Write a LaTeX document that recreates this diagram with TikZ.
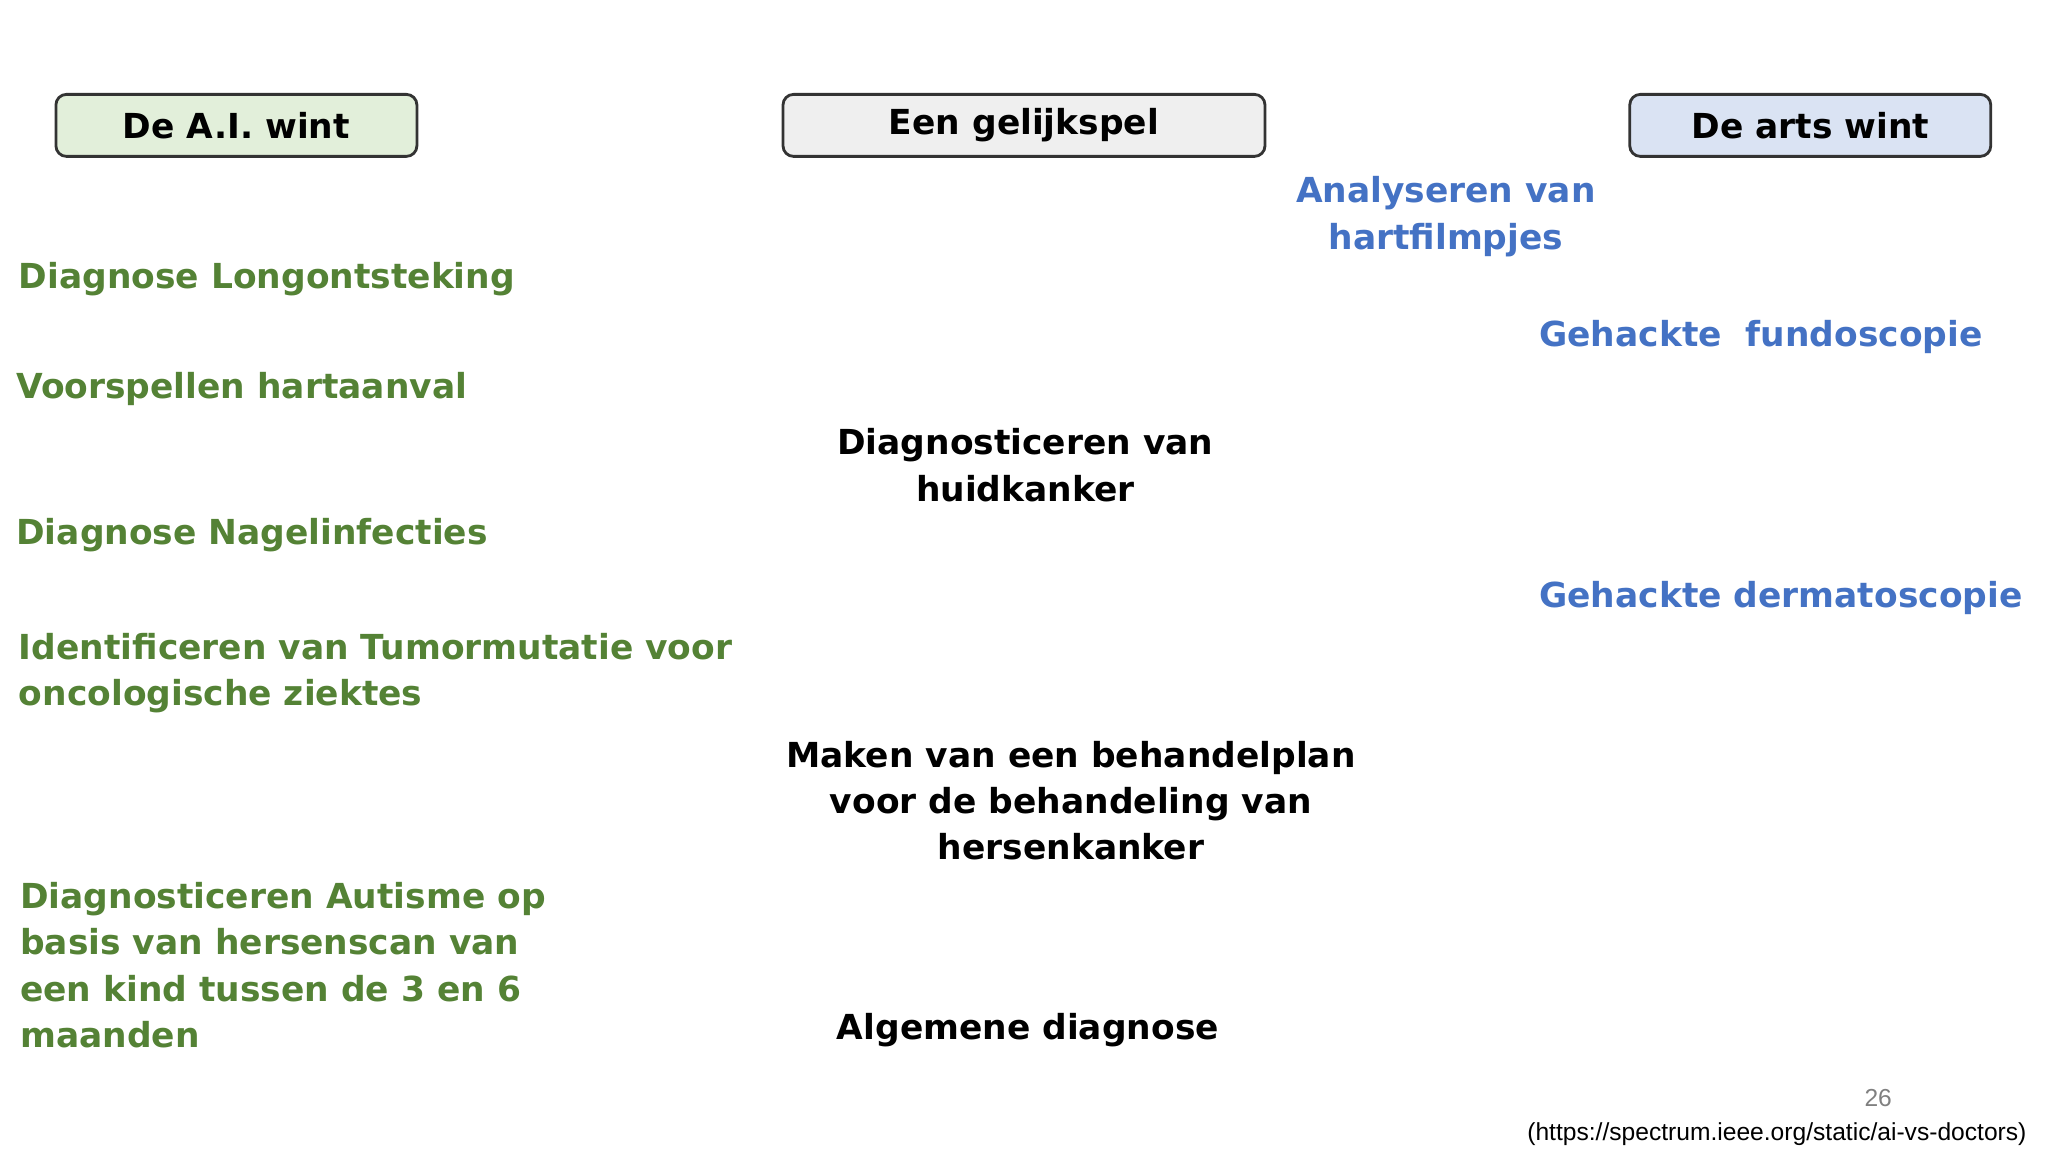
\documentclass[tikz,border=0pt]{standalone}
\usepackage{fontspec}
\setmainfont{DejaVu Sans}
\newfontfamily\srcfont{Liberation Sans}
\definecolor{gr}{HTML}{548235}
\definecolor{bl}{HTML}{4472C4}
\definecolor{gfill}{HTML}{E2EFDA}
\definecolor{bfill}{HTML}{DAE3F3}
\definecolor{hfill}{HTML}{EFEFEF}
\begin{document}
\begin{tikzpicture}[x=0.013061cm,y=-0.013061cm,
 hdr/.style={draw=black!80,rounded corners=3pt,line width=0.8pt,minimum height=0.62cm,font=\fontsize{9.8}{12}\selectfont\bfseries,inner sep=0pt},
 gt/.style={text=gr,font=\fontsize{9.8}{13.2}\selectfont\bfseries,align=left,inner sep=0pt},
 bt/.style={text=bl,font=\fontsize{9.8}{13.2}\selectfont\bfseries,align=center,inner sep=0pt},
 kt/.style={text=black,font=\fontsize{9.8}{13.2}\selectfont\bfseries,align=center,inner sep=0pt}]
\useasboundingbox[fill=white] (0,0) rectangle (1568,882);
\node[hdr,fill=gfill,minimum width=3.61cm] (h1) at (181,96) {De A.I. wint};
\node[hdr,fill=hfill,minimum width=4.82cm] (h2) at (784,96) {Een gelijkspel};
\node[hdr,fill=bfill,minimum width=3.61cm] (h3) at (1386,96) {De arts wint};
\node[gt,anchor=west] (g1) at (14,214) {Diagnose Longontsteking};
\node[gt,anchor=west] (g2) at (12,298) {Voorspellen hartaanval};
\node[gt,anchor=west] (g3) at (12,410) {Diagnose Nagelinfecties};
\node[gt,anchor=north west] (g4) at (14,484) {Identificeren van Tumormutatie voor\\oncologische ziektes};
\node[gt,anchor=north west] (g5) at (15,675) {Diagnosticeren Autisme op\\basis van hersenscan van\\een kind tussen de 3 en 6\\maanden};
\node[kt] (k1) at (785,356) {Diagnosticeren van\\huidkanker};
\node[kt] (k2) at (820,613) {Maken van een behandelplan\\voor de behandeling van\\hersenkanker};
\node[kt] (k3) at (787,789) {Algemene diagnose};
\node[bt] (b1) at (1107,166) {Analyseren van\\hartfilmpjes};
\node[bt,anchor=west] (b2) at (1178,258) {Gehackte\ \ fundoscopie};
\node[bt,anchor=west] (b3) at (1178,458) {Gehackte dermatoscopie};
\node[text=black!50,font=\srcfont\fontsize{7}{8}\selectfont] (pg) at (1438,841) {26};
\node[font=\srcfont\fontsize{7}{8}\selectfont,anchor=east,inner sep=0pt] (src) at (1552,868) {(https://spectrum.ieee.org/static/ai-vs-doctors)};
\end{tikzpicture}
\end{document}
